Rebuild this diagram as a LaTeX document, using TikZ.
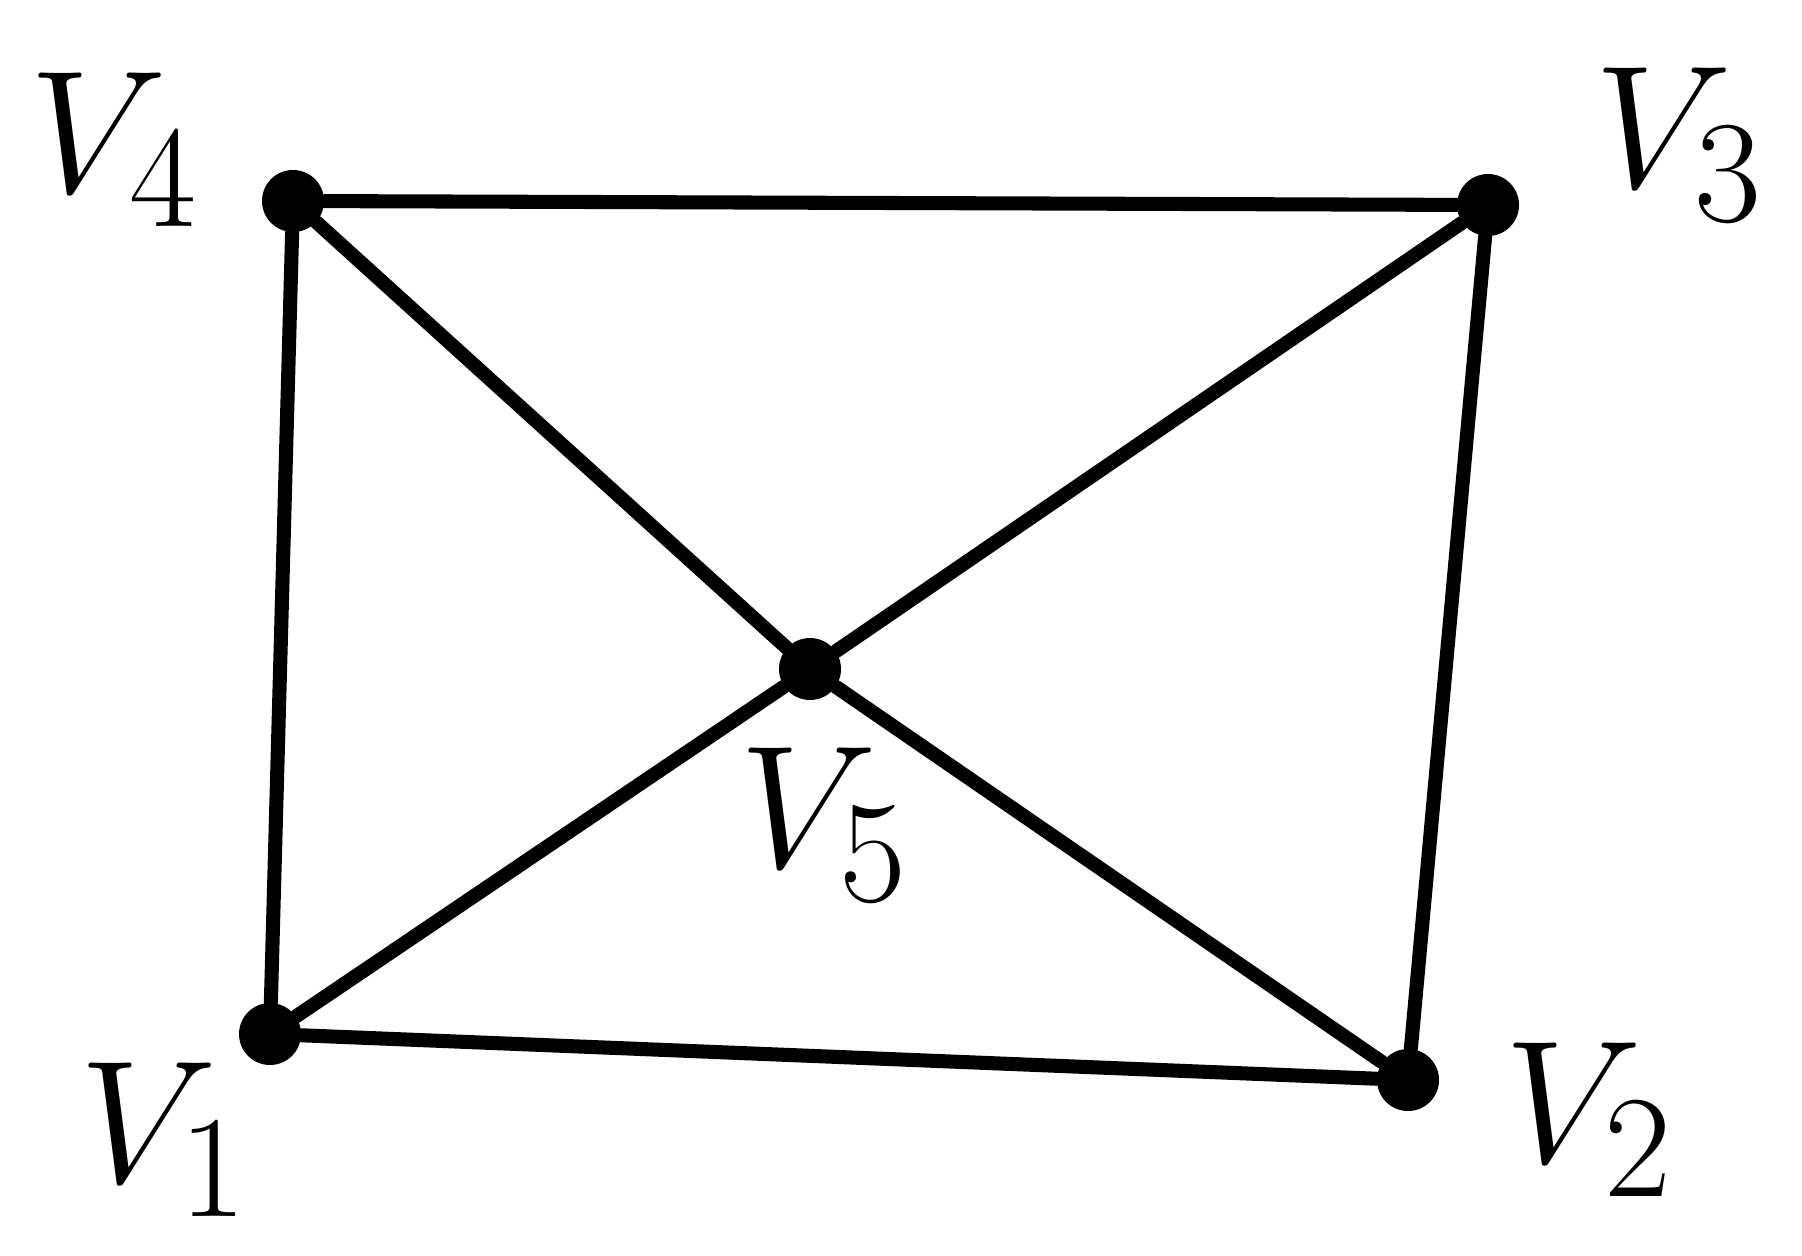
\documentclass[tikz,border=0pt]{standalone}
\usetikzlibrary{positioning}
\newcommand{\vtext}[1]{\scalebox{2.0}{$V_{#1}$}}
\tikzset{
  vertex/.style={
    circle,
    fill=black,
    inner sep=0pt,
    minimum size=0.62cm
  },
  vlabel/.style={
    inner sep=0pt,
    font=\Huge
  },
  edge/.style={line width=4pt, line cap=round}
}
\begin{document}
\begin{tikzpicture}
    \useasboundingbox (0,0) rectangle (18.02,12.55);
    \node[vertex] (v4) at (2.93,10.54) {};
    \node[vertex] (v3) at (14.88,10.50) {};
    \node[vertex] (v1) at (2.70,2.21) {};
    \node[vertex] (v2) at (14.08,1.75) {};
    \node[vertex] (v5) at (8.10,5.86) {};

    \node[vlabel] (l4) at (1.15,11.05) {\vtext{4}};
    \node[vlabel] (l3) at (16.80,11.10) {\vtext{3}};
    \node[vlabel] (l1) at (1.65,1.15) {\vtext{1}};
    \node[vlabel] (l2) at (15.90,1.35) {\vtext{2}};
    \node[vlabel] (l5) at (8.25,4.30) {\vtext{5}};

    \draw[edge] (v4) -- (v3);
    \draw[edge] (v4) -- (v1);
    \draw[edge] (v3) -- (v2);
    \draw[edge] (v1) -- (v2);
    \draw[edge] (v4) -- (v5);
    \draw[edge] (v3) -- (v5);
    \draw[edge] (v1) -- (v5);
    \draw[edge] (v2) -- (v5);
  \end{tikzpicture}
\end{document}
